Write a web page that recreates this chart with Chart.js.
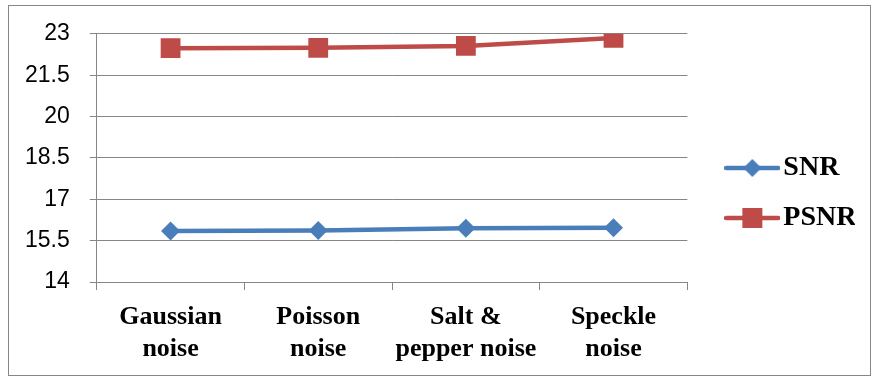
<!DOCTYPE html>
<html>
<head>
<meta charset="utf-8">
<script src="https://cdn.jsdelivr.net/npm/chart.js@4/dist/chart.umd.min.js"></script>
<style>
  html, body { margin: 0; padding: 0; background: #ffffff; }
  #wrap { width: 875px; height: 377px; }
</style>
</head>
<body>
<div id="wrap"><canvas id="c" width="875" height="377"></canvas></div>
<script>
const categories = [['Gaussian', 'noise'], ['Poisson', 'noise'], ['Salt &', 'pepper noise'], ['Speckle', 'noise']];
const snrValues = [15.85, 15.87, 15.95, 15.97];
const psnrValues = [22.48, 22.49, 22.56, 22.85];
const yMin = 14, yMax = 23, yStep = 1.5;

const SNR_COLOR = '#4A7EBB';
const PSNR_COLOR = '#BE4B48';
const GRID = '#868686';

function legendIcon(color, shape) {
  const cv = document.createElement('canvas');
  cv.width = 56; cv.height = 24;
  const g = cv.getContext('2d');
  g.strokeStyle = color; g.lineWidth = 4.5; g.lineCap = 'round';
  g.beginPath(); g.moveTo(2, 12); g.lineTo(54, 12); g.stroke();
  g.fillStyle = color;
  if (shape === 'diamond') {
    g.beginPath(); g.moveTo(28, 3); g.lineTo(37, 12); g.lineTo(28, 21); g.lineTo(19, 12); g.closePath(); g.fill();
  } else {
    g.fillRect(18, 2, 20, 20);
  }
  return cv;
}

const borderPlugin = {
  id: 'outerBorder',
  beforeDraw(chart) {
    const ctx = chart.ctx;
    ctx.save();
    ctx.strokeStyle = GRID;
    ctx.lineWidth = 1;
    ctx.strokeRect(8.5, 5.5, 862, 370);
    ctx.restore();
  }
};

new Chart(document.getElementById('c'), {
  type: 'line',
  data: {
    labels: categories,
    datasets: [
      {
        label: 'SNR',
        data: snrValues,
        borderColor: SNR_COLOR,
        backgroundColor: SNR_COLOR,
        borderWidth: 4.5,
        pointStyle: 'rectRot',
        pointRadius: 9.5,
        pointBorderWidth: 0,
        tension: 0
      },
      {
        label: 'PSNR',
        data: psnrValues,
        borderColor: PSNR_COLOR,
        backgroundColor: PSNR_COLOR,
        borderWidth: 4.5,
        pointStyle: 'rect',
        pointRadius: 14,
        pointBorderWidth: 0,
        tension: 0
      }
    ]
  },
  options: {
    responsive: false,
    animation: false,
    devicePixelRatio: 1,
    layout: { padding: { left: 5, right: 20, top: 33, bottom: 1 } },
    plugins: {
      tooltip: { enabled: false },
      legend: {
        position: 'right',
        align: 'start',
        title: { display: true, text: ' ', font: { size: 10 }, padding: { top: 87, bottom: 0 } },
        labels: {
          usePointStyle: true,
          pointStyleWidth: 34,
          padding: 22,
          color: '#000000',
          font: { family: 'Liberation Serif', weight: 'bold', size: 28 },
          generateLabels(chart) {
            return chart.data.datasets.map((ds, i) => ({
              text: ds.label,
              pointStyle: legendIcon(ds.borderColor, i === 0 ? 'diamond' : 'square'),
              fillStyle: ds.borderColor,
              strokeStyle: ds.borderColor,
              lineWidth: 0,
              hidden: false,
              datasetIndex: i,
              fontColor: '#000000'
            }));
          }
        }
      }
    },
    scales: {
      x: {
        offset: true,
        grid: { display: true, drawOnChartArea: false, drawTicks: true, tickLength: 8, color: GRID, offset: true },
        border: { display: true, color: GRID, width: 1 },
        ticks: {
          color: '#000000',
          padding: 11,
          maxRotation: 0,
          autoSkip: false,
          font: { family: 'Liberation Serif', weight: 'bold', size: 26, lineHeight: 1.23 }
        }
      },
      y: {
        min: yMin,
        max: yMax,
        grid: { color: GRID, lineWidth: 1, drawTicks: true, tickLength: 7 },
        border: { display: true, color: GRID, width: 1 },
        ticks: {
          stepSize: yStep,
          color: '#000000',
          padding: 20,
          font: { family: 'Liberation Sans', size: 23 }
        }
      },
      gap: {
        type: 'linear',
        position: 'right',
        display: true,
        grid: { display: false },
        border: { display: false },
        ticks: { display: false },
        afterFit(scale) { scale.width = 26; }
      }
    }
  },
  plugins: [borderPlugin]
});
</script>
</body>
</html>
